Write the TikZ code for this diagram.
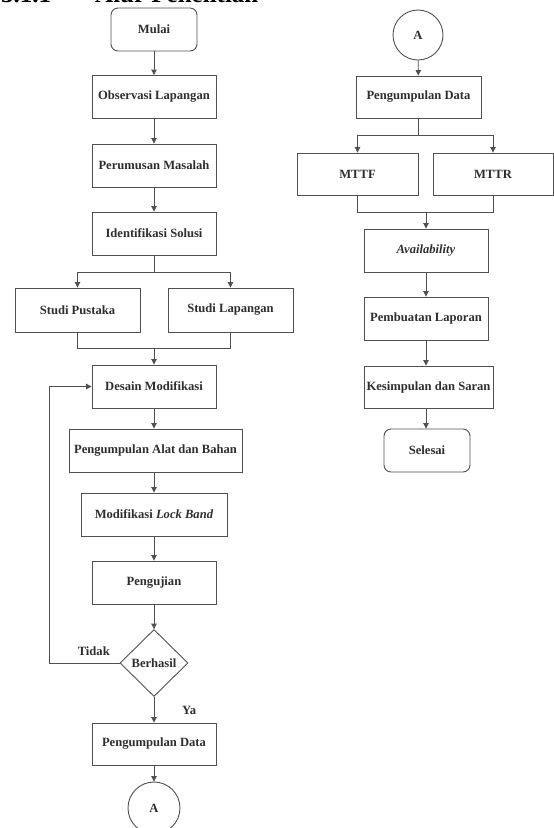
\documentclass[tikz,border=0pt]{standalone}
\usepackage{fontspec}
\setmainfont{Liberation Serif}
\usetikzlibrary{arrows.meta,shapes.geometric}
\definecolor{linegray}{HTML}{505050}
\definecolor{textgray}{HTML}{2E2E2E}
\tikzset{
  base/.style={draw=linegray, line width=0.9pt, text=textgray, font=\fontsize{12.6}{15}\selectfont\bfseries, inner sep=1pt, align=center},
  box/.style={base, rectangle, minimum width=124pt, minimum height=43pt},
  term/.style={box, rounded corners=7pt, minimum width=86pt},
  decision/.style={base, diamond, minimum width=68pt, minimum height=67pt, inner sep=0pt},
  conn/.style={base, circle, minimum size=50pt},
  line/.style={draw=linegray, line width=0.9pt},
  arr/.style={line, -{Triangle[length=5.5pt,width=5.5pt]}},
  lbl/.style={text=textgray, font=\fontsize{12.6}{15}\selectfont\bfseries, inner sep=0pt},
}
\begin{document}
\begin{tikzpicture}[x=1pt,y=-1pt]
\useasboundingbox (0,0) rectangle (554,828);
\clip (0,0) rectangle (554,828);
% heading (cut off at top)
\node[anchor=base west, inner sep=0pt, text=black, font=\fontsize{25}{30}\selectfont\bfseries] (head) at (1,2) {3.1.1\hspace{44pt}Alur Penelitian};
% left column
\node[term] (mulai) at (154,29.5) {Mulai};
\node[box] (obs) at (154,97) {Observasi Lapangan};
\node[box] (perum) at (154,165.5) {Perumusan Masalah};
\node[box] (ident) at (154,233.5) {Identifikasi Solusi};
\node[box, minimum width=125pt, minimum height=44pt] (pustaka) at (77.5,310) {Studi Pustaka};
\node[box, minimum width=125pt, minimum height=44pt] (lapangan) at (230.5,310) {Studi Lapangan};
\node[box] (desain) at (154,386.5) {Desain Modifikasi};
\node[box, minimum width=173pt] (alat) at (155.5,450.5) {Pengumpulan Alat dan Bahan};
\node[box, minimum width=146pt] (lock) at (154,514.5) {Modifikasi \textit{Lock Band}};
\node[box] (uji) at (154,582.5) {Pengujian};
\node[decision] (cek) at (154,663) {Berhasil};
\node[box, minimum height=42pt] (pdata) at (154,744) {Pengumpulan Data};
\node[conn, minimum size=52pt] (a1) at (154,808) {A};
\coordinate (bsplit) at (154,272);
\coordinate (bl) at (77.5,272);
\coordinate (br) at (230.5,272);
\coordinate (ml) at (77.5,348);
\coordinate (mr) at (230.5,348);
\coordinate (mm) at (154,348);
\coordinate (loop) at (49,663);
\node[lbl, anchor=base east] (tidak) at (110,655) {Tidak};
\node[lbl, anchor=base west] (ya) at (182,714) {Ya};
\draw[arr] (mulai) -- (obs);
\draw[arr] (obs) -- (perum);
\draw[arr] (perum) -- (ident);
\draw[line] (ident) -- (bsplit);
\draw[line] (bl) -- (br);
\draw[arr] (bl) -- (pustaka);
\draw[arr] (br) -- (lapangan);
\draw[line] (pustaka) -- (ml) -- (mr) -- (lapangan);
\draw[arr] (mm) -- (desain);
\draw[arr] (desain) -- (alat.north -| desain);
\draw[arr] (alat.south -| desain) -- (lock);
\draw[arr] (lock) -- (uji);
\draw[arr] (uji) -- (cek);
\draw[arr] (cek) -- (pdata);
\draw[arr] (pdata) -- (a1);
\draw[arr] (cek.west) -- (loop) |- (desain.west);
% right column
\node[conn] (a2) at (418,35) {A};
\node[box, minimum width=125pt, minimum height=42pt] (pdata2) at (418.5,97) {Pengumpulan Data};
\node[box, minimum width=121pt, minimum height=42pt] (mttf) at (357.5,174) {MTTF};
\node[box, minimum width=120pt, minimum height=42pt] (mttr) at (493,174) {MTTR};
\node[box] (avail) at (426,250.5) {\textit{Availability}};
\node[box] (pemb) at (426,318.5) {Pembuatan Laporan};
\node[box, minimum width=129pt, minimum height=42pt] (kesim) at (428.5,387) {Kesimpulan dan Saran};
\node[term] (selesai) at (427,450.5) {Selesai};
\coordinate (rsplit) at (418.5,135);
\coordinate (rl) at (357.5,135);
\coordinate (rr) at (493,135);
\coordinate (rml) at (357.5,212);
\coordinate (rmr) at (493,212);
\coordinate (rmm) at (426,212);
\draw[arr] (a2) -- (pdata2);
\draw[line] (pdata2) -- (rsplit);
\draw[line] (rl) -- (rr);
\draw[arr] (rl) -- (mttf);
\draw[arr] (rr) -- (mttr);
\draw[line] (mttf) -- (rml) -- (rmr) -- (mttr);
\draw[arr] (rmm) -- (avail);
\draw[arr] (avail) -- (pemb);
\draw[arr] (pemb) -- (kesim.north -| pemb);
\draw[arr] (kesim.south -| pemb) -- (selesai.north -| pemb);
\end{tikzpicture}
\end{document}
